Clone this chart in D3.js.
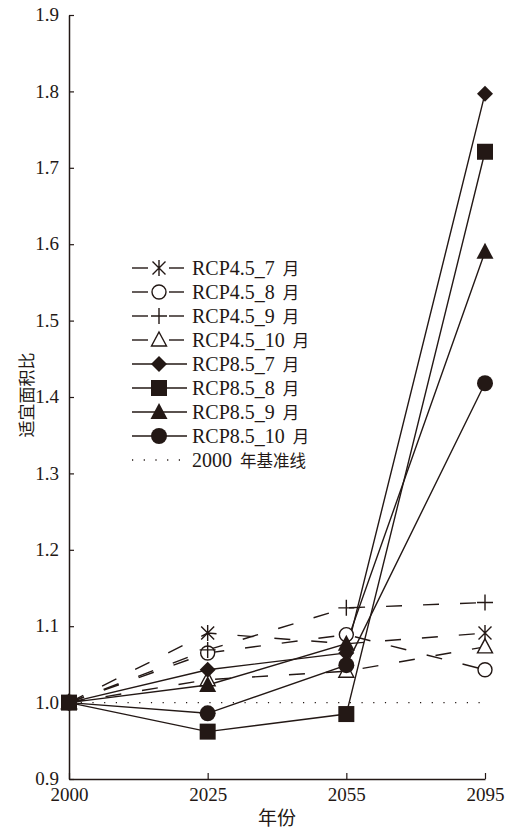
<!DOCTYPE html>
<html><head><meta charset="utf-8">
<script src="https://cdn.jsdelivr.net/npm/d3@7"></script>
<style>body{margin:0;background:#fff}svg{display:block}</style>
</head><body><svg id="c" width="505" height="830"></svg>
<script>
const years = ["2000","2025","2055","2095"];
const yTicks = [0.9,1.0,1.1,1.2,1.3,1.4,1.5,1.6,1.7,1.8,1.9];
const seriesNames = ["RCP4.5_7 月","RCP4.5_8 月","RCP4.5_9 月","RCP4.5_10 月","RCP8.5_7 月","RCP8.5_8 月","RCP8.5_9 月","RCP8.5_10 月"];
const seriesMarkers = ["asterisk","circleOpen","plus","triangleOpen","diamond","square","triangle","circle"];
const seriesDashed = [true,true,true,true,false,false,false,false];
const rcp45_7 = [1.0,1.091,1.077,1.091];
const rcp45_8 = [1.0,1.065,1.089,1.043];
const rcp45_9 = [1.0,1.069,1.124,1.131];
const rcp45_10 = [1.0,1.030,1.041,1.073];
const rcp85_7 = [1.0,1.043,1.065,1.797];
const rcp85_8 = [1.0,0.962,0.985,1.721];
const rcp85_9 = [1.0,1.023,1.077,1.590];
const rcp85_10 = [1.0,0.986,1.049,1.418];
const baselineValue = 1.0;
const baselineLabel = "2000 年基准线";
const xTitle = "年份", yTitle = "适宜面积比";

const seriesValues = [rcp45_7,rcp45_8,rcp45_9,rcp45_10,rcp85_7,rcp85_8,rcp85_9,rcp85_10];
const series = seriesNames.map((n,i)=>({name:n,marker:seriesMarkers[i],dashed:seriesDashed[i],values:seriesValues[i]}));

const INK = "#231815";
const serif = "'Liberation Serif','Times New Roman',serif";
const cjk = "'Noto Sans CJK SC',sans-serif";
const svg = d3.select("#c");
const x = d3.scalePoint().domain(years).range([69,485]);
const y = d3.scaleLinear().domain([0.9,1.9]).range([779,15]);

// axes
const yAxis = svg.append("g").attr("transform","translate(69,0)")
  .call(d3.axisLeft(y).tickValues(yTicks).tickFormat(d3.format(".1f")).tickSizeInner(-5).tickSizeOuter(0).tickPadding(10));
yAxis.select(".domain").attr("stroke",INK).attr("stroke-width",1.5);
yAxis.selectAll(".tick line").attr("stroke",INK).attr("stroke-width",1.2);
yAxis.selectAll(".tick text").attr("font-family",serif).attr("font-size",19).attr("fill",INK).attr("dy","0.3em");

const xAxis = svg.append("g").attr("transform","translate(0,779)")
  .call(d3.axisBottom(x).tickSizeInner(-6).tickSizeOuter(0).tickPadding(9));
xAxis.select(".domain").attr("stroke",INK).attr("stroke-width",1.5);
xAxis.selectAll(".tick line").attr("stroke",INK).attr("stroke-width",1.2);
xAxis.selectAll(".tick text").attr("font-family",serif).attr("font-size",19).attr("fill",INK);

svg.append("text").attr("x",277).attr("y",825).attr("text-anchor","middle")
  .attr("font-family",cjk).attr("font-size",19).attr("fill",INK).text(xTitle);
svg.append("text").attr("transform","translate(33,395) rotate(-90)").attr("text-anchor","middle")
  .attr("font-family",cjk).attr("font-size",17).attr("fill",INK).text(yTitle);

// baseline
svg.append("line").attr("x1",x(years[0])).attr("x2",x(years[3])).attr("y1",y(baselineValue)).attr("y2",y(baselineValue))
  .attr("stroke",INK).attr("stroke-width",1.3).attr("stroke-dasharray","1.2,10.5");

const DASH = "16,21";
const line = d3.line().x((d,i)=>x(years[i])).y(d=>y(d));
series.forEach(s=>{
  svg.append("path").attr("d",line(s.values)).attr("fill","none").attr("stroke",INK)
    .attr("stroke-width",1.4).attr("stroke-dasharray",s.dashed?DASH:null);
});

function drawMarker(g,type,cx,cy){
  const m = g.append("g").attr("transform",`translate(${cx},${cy})`);
  const st = {stroke:INK,"stroke-width":1.4};
  const apply = (el,attrs)=>{Object.entries(attrs).forEach(([k,v])=>el.attr(k,v));return el;};
  switch(type){
    case "asterisk":
      apply(m.append("path").attr("d","M0,-8V8M-6.5,-6.5L6.5,6.5M-6.5,6.5L6.5,-6.5").attr("fill","none"),st);break;
    case "plus":
      apply(m.append("path").attr("d","M0,-8V8M-8,0H8").attr("fill","none"),st);break;
    case "circleOpen":
      apply(m.append("circle").attr("r",7).attr("fill","#fff"),st);break;
    case "triangleOpen":
      apply(m.append("path").attr("d","M0,-8L7.5,6H-7.5Z").attr("fill","#fff"),st);break;
    case "diamond":
      m.append("path").attr("d","M0,-8L8,0L0,8L-8,0Z").attr("fill",INK);break;
    case "square":
      m.append("rect").attr("x",-8).attr("y",-8).attr("width",16).attr("height",16).attr("fill",INK);break;
    case "triangle":
      m.append("path").attr("d","M0,-9L8.5,7H-8.5Z").attr("fill",INK);break;
    case "circle":
      m.append("circle").attr("r",8).attr("fill",INK);break;
  }
}
const mg = svg.append("g");
series.forEach(s=>{ s.values.forEach((v,i)=>drawMarker(mg,s.marker,x(years[i]),y(v))); });

// legend
const lg = svg.append("g");
const ly0 = 268, ldy = 24;
function legendText(yy,label){
  const parts = label.split(" ");
  const t = lg.append("text").attr("x",192).attr("y",yy).attr("dy","0.35em").attr("font-family",serif).attr("font-size",20).attr("fill",INK);
  t.append("tspan").text(parts[0]);
  t.append("tspan").attr("dx",8).attr("font-family",cjk).attr("font-size",16.5).text(parts[1]);
}
series.forEach((s,i)=>{
  const yy = ly0 + i*ldy;
  if(s.dashed){
    lg.append("line").attr("x1",132).attr("x2",148).attr("y1",yy).attr("y2",yy).attr("stroke",INK).attr("stroke-width",1.4);
    lg.append("line").attr("x1",169).attr("x2",184).attr("y1",yy).attr("y2",yy).attr("stroke",INK).attr("stroke-width",1.4);
  } else {
    lg.append("line").attr("x1",132).attr("x2",187).attr("y1",yy).attr("y2",yy).attr("stroke",INK).attr("stroke-width",1.4);
  }
  drawMarker(lg,s.marker,159,yy);
  legendText(yy,s.name);
});
{
  const yy = ly0 + 8*ldy;
  lg.append("line").attr("x1",132).attr("x2",186).attr("y1",yy).attr("y2",yy).attr("stroke",INK).attr("stroke-width",1.3).attr("stroke-dasharray","1.2,10.5");
  legendText(yy,baselineLabel);
}
</script></body></html>
